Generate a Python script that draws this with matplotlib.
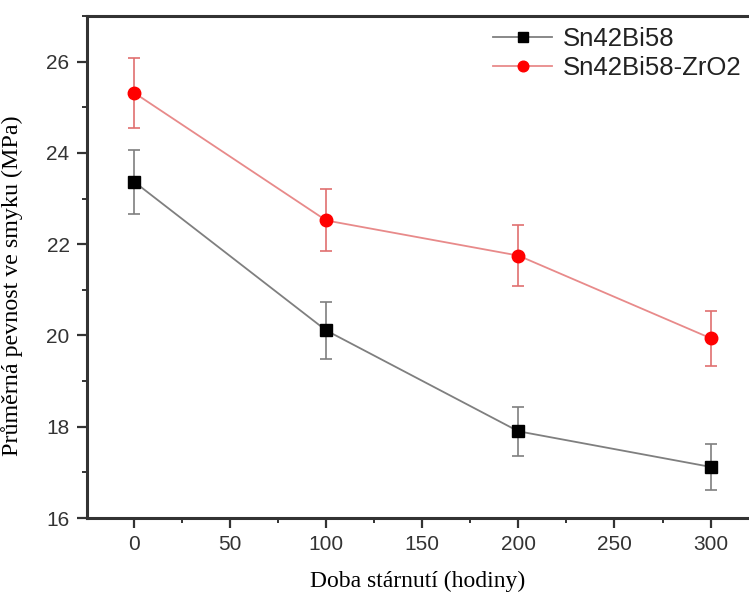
import numpy as np
import matplotlib
matplotlib.use('Agg')
from matplotlib import pyplot as plt
from matplotlib.ticker import MultipleLocator

hours = [0, 100, 200, 300]
sn_bi = [23.37, 20.11, 17.90, 17.12]
sn_bi_err = [0.70, 0.62, 0.54, 0.51]
sn_bi_zr = [25.32, 22.52, 21.75, 19.94]
sn_bi_zr_err = [0.77, 0.68, 0.66, 0.60]

fig = plt.figure(figsize=(7.49, 5.92), dpi=100)
ax = fig.add_axes([0.116, 0.125, 0.884, 0.848])

# chyby
ax.errorbar(hours, sn_bi, yerr=sn_bi_err, fmt='none', ecolor='#7f7f7f',
            elinewidth=1.2, capsize=4, capthick=1.2)
ax.errorbar(hours, sn_bi_zr, yerr=sn_bi_zr_err, fmt='none', ecolor='#e07070',
            elinewidth=1.2, capsize=4, capthick=1.2)

# krivky
ax.plot(hours, sn_bi, color='#7f7f7f', lw=1.3, marker='s', ms=8,
        mfc='black', mec='black', label='Sn42Bi58')
ax.plot(hours, sn_bi_zr, color='#e88a8a', lw=1.3, marker='o', ms=9,
        mfc='#ff0000', mec='#ff0000', label='Sn42Bi58-ZrO2')

ax.set_xlim(-24.5, 320)
ax.set_ylim(16, 27)
ax.xaxis.set_major_locator(MultipleLocator(50))
ax.xaxis.set_minor_locator(MultipleLocator(25))
ax.yaxis.set_major_locator(MultipleLocator(2))
ax.yaxis.set_minor_locator(MultipleLocator(1))

for s in ['left', 'bottom', 'top']:
    ax.spines[s].set_linewidth(2.2)
    ax.spines[s].set_color('#333333')
ax.spines['right'].set_visible(False)

ax.tick_params(which='major', direction='out', length=7, width=1.6, color='#333333',
               labelsize=15, labelcolor='#333333', top=False, right=False, pad=5.5)
ax.tick_params(which='minor', direction='out', length=3.5, width=1.4, color='#333333',
               top=False, right=False)
for lab in ax.get_xticklabels() + ax.get_yticklabels():
    lab.set_family('Liberation Sans')

ax.set_xlabel('Doba stárnutí (hodiny)', family='Liberation Serif', fontsize=17, labelpad=12)
ax.set_ylabel('Průměrná pevnost ve smyku (MPa)', family='Liberation Serif', fontsize=17.3)
ax.yaxis.set_label_coords(-0.097, 0.462)

leg = ax.legend(loc='upper left', bbox_to_anchor=(493 / 749, 1 - 27 / 592),
                bbox_transform=fig.transFigure, frameon=False,
                prop={'family': 'Liberation Sans', 'size': 18.5}, handlelength=2.3,
                handletextpad=0.4, labelspacing=0.2, borderaxespad=0, borderpad=0,
                markerscale=0.85)
for t in leg.get_texts():
    t.set_color('#222222')

plt.savefig('out.png', dpi=100)
